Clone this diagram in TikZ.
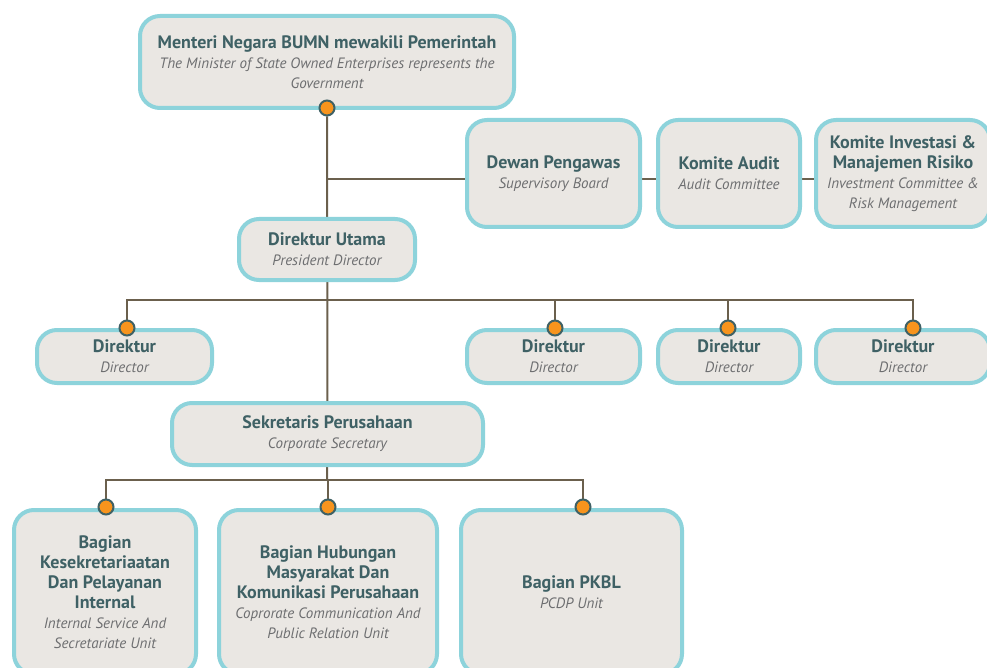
\documentclass[tikz,border=0pt]{standalone}
\usepackage{fontspec}
\setmainfont{PT Sans}
\usetikzlibrary{backgrounds}
\definecolor{boxfill}{HTML}{EAE7E3}
\definecolor{boxline}{HTML}{8DD3DB}
\definecolor{linkc}{HTML}{6B604D}
\definecolor{titlec}{HTML}{3F6165}
\definecolor{subc}{HTML}{6D6E70}
\definecolor{dotc}{HTML}{F7941D}
\newcommand{\ttl}[1]{{\fontsize{18}{20}\selectfont\bfseries\color{titlec}#1}}
\newcommand{\sbt}[1]{{\itshape\color{subc}#1}}
\tikzset{
  orgbox/.style={draw=boxline, fill=boxfill, line width=4pt, rounded corners=20pt,
    align=center, inner sep=0pt, font=\fontsize{15}{20}\selectfont},
  knob/.style={circle, draw=titlec, fill=dotc, line width=2pt, minimum size=15pt, inner sep=0pt},
  link/.style={draw=linkc, line width=2pt}
}
\begin{document}
\begin{tikzpicture}[x=1pt, y=-1pt]
\clip (0,0) rectangle (987,668);

\node[orgbox, minimum width=374pt, minimum height=92pt] (menteri) at (327,62)
  {\ttl{Menteri Negara BUMN mewakili Pemerintah}\\\sbt{The Minister of State Owned Enterprises represents the}\\\sbt{Government}};
\node[orgbox, minimum width=173pt, minimum height=107pt] (dewan) at (553.5,173.5)
  {\ttl{Dewan Pengawas}\\\sbt{Supervisory Board}};
\node[orgbox, minimum width=142pt, minimum height=107pt] (audit) at (729,173.5)
  {\ttl{Komite Audit}\\\sbt{Audit Committee}};
\node[orgbox, minimum width=174pt, minimum height=107pt] (invest) at (903,173.5)
  {\ttl{Komite Investasi \&}\\\ttl{Manajemen Risiko}\\\sbt{Investment Committee \&}\\\sbt{Risk Management}};
\node[orgbox, minimum width=176pt, minimum height=61pt] (utama) at (327,249.5)
  {\ttl{Direktur Utama}\\\sbt{President Director}};

\node[orgbox, minimum width=175pt, minimum height=53pt] (dir1) at (124.5,356.5) {\ttl{Direktur}\\\sbt{Director}};
\node[orgbox, minimum width=173pt, minimum height=53pt] (dir2) at (553.5,356.5) {\ttl{Direktur}\\\sbt{Director}};
\node[orgbox, minimum width=142pt, minimum height=53pt] (dir3) at (729,356.5) {\ttl{Direktur}\\\sbt{Director}};
\node[orgbox, minimum width=174pt, minimum height=53pt] (dir4) at (903,356.5) {\ttl{Direktur}\\\sbt{Director}};

\node[orgbox, minimum width=311pt, minimum height=62pt] (sekr) at (327.5,434)
  {\ttl{Sekretaris Perusahaan}\\\sbt{Corporate Secretary}};

\node[orgbox, minimum width=182pt, minimum height=164pt] (bag1) at (105,592)
  {\ttl{Bagian}\\\ttl{Kesekretariaatan}\\\ttl{Dan Pelayanan}\\\ttl{Internal}\\\sbt{Internal Service And}\\\sbt{Secretariate Unit}};
\node[orgbox, minimum width=218pt, minimum height=164pt] (bag2) at (328,592)
  {\ttl{Bagian Hubungan}\\\ttl{Masyarakat Dan}\\\ttl{Komunikasi Perusahaan}\\\sbt{Coprorate Communication And}\\\sbt{Public Relation Unit}};
\node[orgbox, minimum width=221pt, minimum height=164pt] (bag3) at (571.5,592)
  {\ttl{Bagian PKBL}\\\sbt{PCDP Unit}};

% knobs on the box edges
\node[knob] (kmen) at (327,108) {};
\node[knob] (kd1) at (127,328) {};
\node[knob] (kd2) at (555,328) {};
\node[knob] (kd3) at (728,328) {};
\node[knob] (kd4) at (913,328) {};
\node[knob] (kb1) at (106,507) {};
\node[knob] (kb2) at (328,507) {};
\node[knob] (kb3) at (583,507) {};

\coordinate (sup) at (327,179);
\coordinate (dbar) at (327,300);
\coordinate (bbar) at (327,480);

\begin{scope}[on background layer]
\draw[link] (kmen) -- (sekr);
\draw[link] (sup) -- (sup -| invest.west);
\draw[link] (kd1) |- (dbar) -| (kd4);
\draw[link] (dbar) -| (kd2);
\draw[link] (dbar) -| (kd3);
\draw[link] (sekr) -- (bbar);
\draw[link] (kb1) |- (bbar) -| (kb3);
\draw[link] (bbar) -| (kb2);
\end{scope}
\end{tikzpicture}
\end{document}
